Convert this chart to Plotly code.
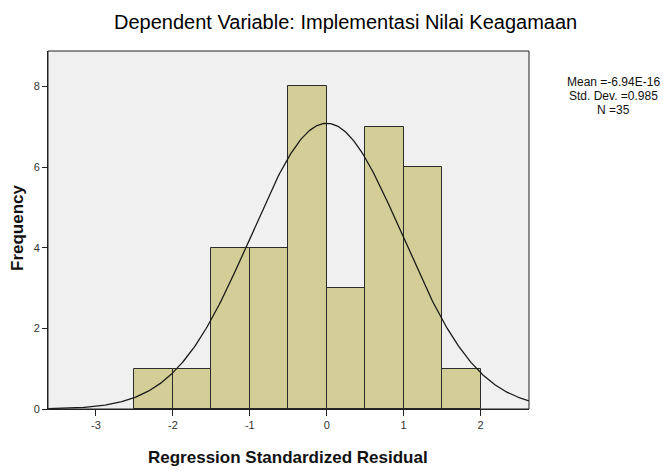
import numpy as np
import plotly.graph_objects as go

bin_starts = [-2.5, -2.0, -1.5, -1.0, -0.5, 0.0, 0.5, 1.0, 1.5]
counts = [1, 1, 4, 4, 8, 3, 7, 6, 1]
bin_width = 0.5
mean_val = -6.94e-16
std_val = 0.985
n_val = 35
x_ticks = [-3, -2, -1, 0, 1, 2]
x_tick_labels = ["-3", "-2", "-1", "0", "1", "2"]
y_ticks = [0, 2, 4, 6, 8]
stats_lines = ["Mean =-6.94E-16", f"Std. Dev. ={std_val}", f"N ={n_val}"]

centers = [s + bin_width / 2 for s in bin_starts]

xs = np.linspace(-3.62, 2.63, 400)
ys = n_val * bin_width / (std_val * np.sqrt(2 * np.pi)) * np.exp(-0.5 * ((xs - mean_val) / std_val) ** 2)

L, R, T, B = 48, 134, 51, 62
W, H = 663, 471
pw, ph = W - L - R, H - T - B

fig = go.Figure()
fig.add_trace(go.Bar(x=centers, y=counts, width=bin_width,
                     marker=dict(color="#D3CE97", line=dict(color="#2b2b2b", width=1)),
                     showlegend=False, hoverinfo="skip"))
fig.add_trace(go.Scatter(x=xs, y=ys, mode="lines", line=dict(color="#1a1a1a", width=1.3),
                         showlegend=False, hoverinfo="skip"))

annotations = [
    dict(text="Dependent Variable: Implementasi Nilai Keagamaan",
         xref="paper", yref="paper", x=(345 - L) / pw, y=(H - B - 22) / ph,
         xanchor="center", yanchor="middle", showarrow=False,
         font=dict(size=20, color="#000")),
    dict(text="<b>Regression Standardized Residual</b>",
         xref="paper", yref="paper", x=(288 - L) / pw, y=(H - B - 458) / ph,
         xanchor="center", yanchor="middle", showarrow=False,
         font=dict(size=17, color="#111")),
    dict(text="<b>Frequency</b>", textangle=-90,
         xref="paper", yref="paper", x=(18 - L) / pw, y=(H - B - 228) / ph,
         xanchor="center", yanchor="middle", showarrow=False,
         font=dict(size=17, color="#111")),
]
for i, line in enumerate(stats_lines):
    annotations.append(dict(text=line, xref="paper", yref="paper",
                            x=(613 - L) / pw, y=(H - B - (82 + 14 * i)) / ph,
                            xanchor="center", yanchor="middle", showarrow=False,
                            font=dict(size=12, color="#111")))

fig.update_layout(
    width=W, height=H,
    margin=dict(l=L, r=R, t=T, b=B, autoexpand=False),
    paper_bgcolor="white", plot_bgcolor="#F0F0F0",
    font=dict(family="Liberation Sans, Arial, sans-serif", color="#222"),
    bargap=0,
    xaxis=dict(range=[-3.624, 2.63], tickvals=x_ticks, ticktext=x_tick_labels,
               ticks="outside", ticklen=6, automargin=False,
               tickcolor="#222", showgrid=False, zeroline=False, showline=True,
               linecolor="#222", linewidth=1, tickfont=dict(size=11, color="#333")),
    yaxis=dict(range=[0, 8.88], tickvals=y_ticks, ticks="outside", ticklen=5, automargin=False,
               tickcolor="#222", showgrid=False, zeroline=False, showline=True,
               linecolor="#222", linewidth=1, tickfont=dict(size=11, color="#333")),
    shapes=[dict(type="rect", xref="paper", yref="paper", x0=0, y0=0, x1=1, y1=1,
                 line=dict(color="#222", width=1), fillcolor="rgba(0,0,0,0)")],
    annotations=annotations,
)

fig.write_html("out.html", config={"displayModeBar": False},
               post_script="document.body.style.margin='0';document.body.style.overflow='hidden';")
